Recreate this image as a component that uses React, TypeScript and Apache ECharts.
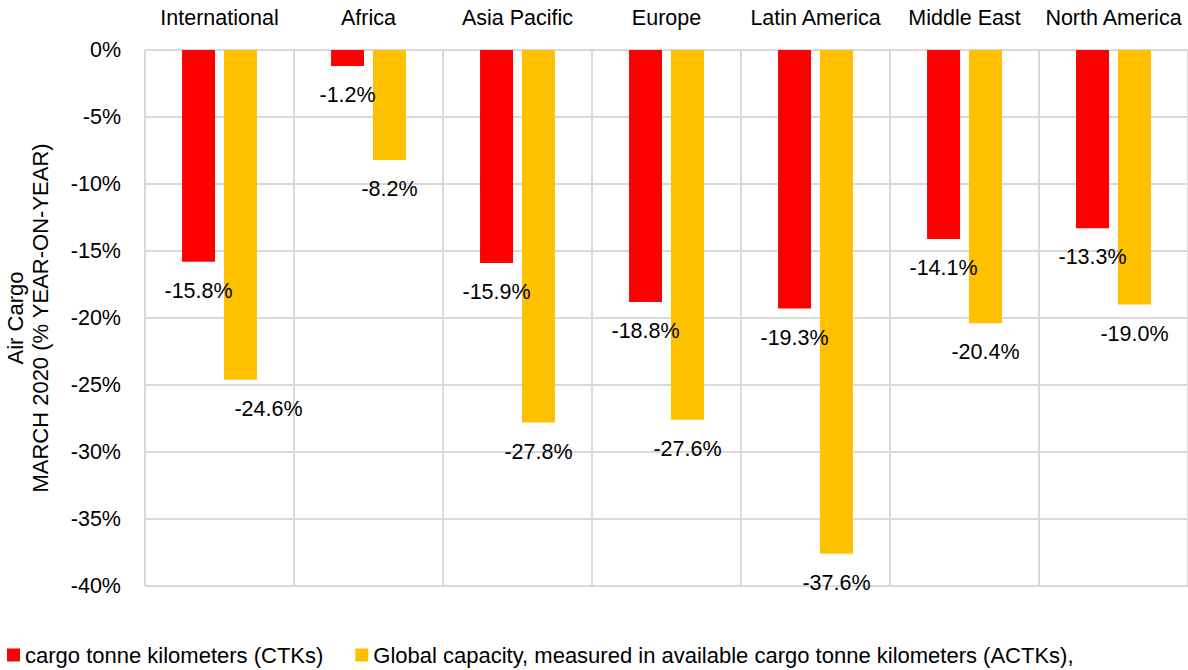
import React, { useEffect, useRef } from "react";
import * as echarts from "echarts";

const categories = ["International", "Africa", "Asia Pacific", "Europe", "Latin America", "Middle East", "North America"];
const ctkValues = [-15.8, -1.2, -15.9, -18.8, -19.3, -14.1, -13.3];
const actkValues = [-24.6, -8.2, -27.8, -27.6, -37.6, -20.4, -19.0];
const seriesNames = [
  "cargo tonne kilometers (CTKs)",
  "Global capacity, measured in available cargo tonne kilometers (ACTKs),",
];
const yAxisName = "Air Cargo\nMARCH 2020 (% YEAR-ON-YEAR)";

const FONT = "'Liberation Sans', Arial, sans-serif";

export default function App() {
  const ref = useRef<HTMLDivElement>(null);
  useEffect(() => {
    if (!ref.current) return;
    const chart = echarts.init(ref.current, undefined, { renderer: "svg" });
    const fmt = (p: any) => `${Number(p.value).toFixed(1)}%`;
    chart.setOption({
      animation: false,
      textStyle: { fontFamily: FONT },
      grid: { left: 145, top: 50, right: 0, bottom: 84, containLabel: false, outerBoundsMode: "none" },
      legend: {
        left: 2,
        top: 639,
        itemWidth: 13,
        itemHeight: 13,
        itemGap: 32,
        icon: "rect",
        textStyle: { fontSize: 22, color: "#000", fontFamily: FONT },
        data: seriesNames,
      },
      xAxis: {
        type: "category",
        position: "top",
        data: categories,
        axisLine: { show: false },
        axisTick: { show: false },
        axisLabel: { fontSize: 21.5, color: "#000", margin: 21, interval: 0, fontFamily: FONT },
        splitLine: { show: true, interval: 0, lineStyle: { color: "#d9d9d9", width: 2 } },
      },
      yAxis: {
        type: "value",
        min: -40,
        max: 0,
        interval: 5,
        name: yAxisName,
        nameLocation: "middle",
        nameRotate: 90,
        nameGap: 92,
        nameTextStyle: { fontSize: 22, color: "#000", lineHeight: 25, fontFamily: FONT },
        axisLine: { show: false },
        axisTick: { show: false },
        axisLabel: { fontSize: 21.5, color: "#000", margin: 24, formatter: "{value}%", fontFamily: FONT },
        splitLine: { show: true, lineStyle: { color: "#d9d9d9", width: 2 } },
      },
      series: [
        {
          name: seriesNames[0],
          type: "bar",
          data: ctkValues,
          barWidth: 33,
          barGap: "27%",
          itemStyle: { color: "#FF0000" },
          label: {
            show: true,
            position: "bottom",
            distance: 18,
            fontSize: 21.5,
            color: "#000",
            fontFamily: FONT,
            formatter: fmt,
          },
        },
        {
          name: seriesNames[1],
          type: "bar",
          data: actkValues.map((v, i) =>
            i === 0 ? { value: v, label: { offset: [28, 0] } } : v
          ),
          barWidth: 33,
          itemStyle: { color: "#FFC000" },
          label: {
            show: true,
            position: "bottom",
            distance: 18,
            fontSize: 21.5,
            color: "#000",
            fontFamily: FONT,
            formatter: fmt,
          },
        },
      ],
    });
    return () => chart.dispose();
  }, []);
  return <div ref={ref} style={{ width: 1188, height: 670, position: "absolute", left: 0, top: 0 }} />;
}
